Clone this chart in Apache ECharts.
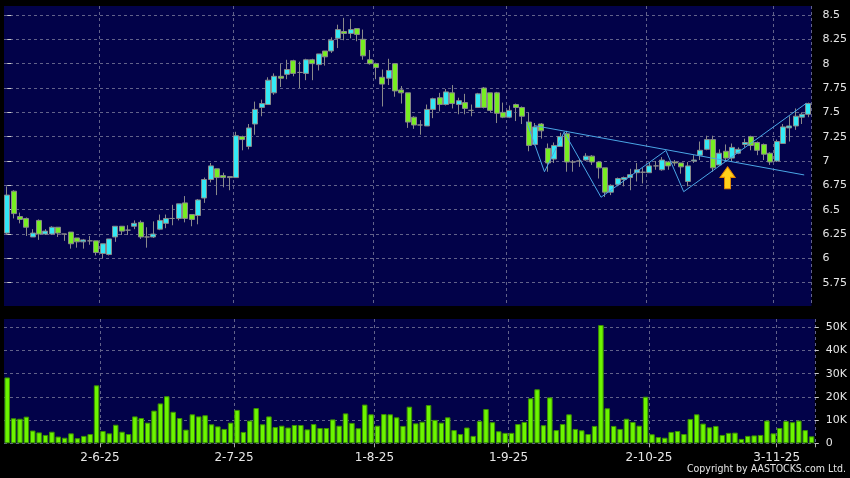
<!DOCTYPE html>
<html><head><meta charset="utf-8">
<script src="https://cdn.jsdelivr.net/npm/echarts@6/dist/echarts.min.js"></script>
<style>html,body{margin:0;padding:0;background:#000;}#c{width:850px;height:478px;}</style>
</head><body><div id="c"></div>
<script>
const dates = ['12-5-25','13-5-25','14-5-25','15-5-25','16-5-25','19-5-25','20-5-25','21-5-25','22-5-25','23-5-25','26-5-25','27-5-25','28-5-25','29-5-25','30-5-25',
'2-6-25','3-6-25','4-6-25','5-6-25','6-6-25','9-6-25','10-6-25','11-6-25','12-6-25','13-6-25','16-6-25','17-6-25','18-6-25','19-6-25','20-6-25','23-6-25','24-6-25','25-6-25','26-6-25','27-6-25','30-6-25',
'2-7-25','3-7-25','4-7-25','7-7-25','8-7-25','9-7-25','10-7-25','11-7-25','14-7-25','15-7-25','16-7-25','17-7-25','18-7-25','21-7-25','22-7-25','23-7-25','24-7-25','25-7-25','28-7-25','29-7-25','30-7-25','31-7-25',
'1-8-25','4-8-25','5-8-25','6-8-25','7-8-25','8-8-25','11-8-25','12-8-25','13-8-25','14-8-25','15-8-25','18-8-25','19-8-25','20-8-25','21-8-25','22-8-25','25-8-25','26-8-25','27-8-25','28-8-25','29-8-25',
'1-9-25','2-9-25','3-9-25','4-9-25','5-9-25','8-9-25','9-9-25','10-9-25','11-9-25','12-9-25','15-9-25','16-9-25','17-9-25','18-9-25','19-9-25','22-9-25','23-9-25','24-9-25','25-9-25','26-9-25','29-9-25','30-9-25',
'2-10-25','3-10-25','6-10-25','8-10-25','9-10-25','10-10-25','13-10-25','14-10-25','15-10-25','16-10-25','17-10-25','20-10-25','21-10-25','22-10-25','23-10-25','24-10-25','27-10-25','28-10-25','30-10-25','31-10-25',
'3-11-25','4-11-25','5-11-25','6-11-25','7-11-25','10-11-25'];

const opens = [6.26,6.69,6.43,6.41,6.22,6.39,6.25,6.25,6.32,6.25,6.27,6.21,6.17,6.18,6.18,6.05,6.04,6.22,6.33,6.29,
6.33,6.37,6.22,6.22,6.30,6.36,6.41,6.41,6.57,6.45,6.44,6.62,6.81,6.92,6.85,6.84,6.83,7.25,7.15,7.38,
7.55,7.58,7.70,7.87,7.89,8.03,7.91,7.90,8.04,7.99,8.13,8.13,8.26,8.33,8.31,8.36,8.25,8.04,8.00,7.86,
7.85,8.00,7.73,7.70,7.45,7.37,7.36,7.53,7.65,7.58,7.70,7.58,7.60,7.52,7.55,7.75,7.70,7.70,7.50,7.45,
7.58,7.55,7.40,7.17,7.38,7.13,7.02,7.15,7.28,6.99,7.00,7.01,7.05,6.99,6.93,6.68,6.76,6.81,6.83,6.88,
6.885,6.88,6.95,6.91,6.99,6.99,6.98,6.79,7.00,7.06,7.12,7.22,6.96,7.10,7.03,7.08,7.17,7.25,7.19,7.17,
7.08,7.00,7.18,7.34,7.36,7.45,7.48];
const closes = [6.65,6.46,6.40,6.32,6.26,6.25,6.28,6.32,6.26,6.25,6.15,6.17,6.19,6.18,6.06,6.15,6.20,6.33,6.28,6.29,
6.36,6.22,6.22,6.25,6.39,6.41,6.41,6.56,6.41,6.40,6.60,6.81,6.95,6.83,6.83,6.83,7.26,7.22,7.34,7.53,
7.59,7.83,7.87,7.85,7.94,7.90,7.91,8.04,8.00,8.10,8.07,8.24,8.35,8.31,8.35,8.30,8.08,8.00,7.96,7.79,
7.93,7.72,7.70,7.40,7.37,7.37,7.53,7.64,7.58,7.71,7.59,7.62,7.54,7.52,7.69,7.55,7.52,7.49,7.45,7.52,
7.55,7.46,7.16,7.35,7.31,6.98,7.16,7.25,6.99,6.99,7.00,7.05,6.99,6.93,6.68,6.75,6.82,6.83,6.86,6.91,
6.885,6.95,6.95,7.01,6.95,6.98,6.94,6.95,7.01,7.11,7.22,6.93,7.08,7.03,7.14,7.12,7.19,7.16,7.11,7.07,
6.99,7.20,7.35,7.36,7.46,7.48,7.59];
const lows = [6.24,6.41,6.36,6.23,6.22,6.19,6.24,6.24,6.22,6.18,6.10,6.11,6.10,6.14,6.03,6.00,6.03,6.17,6.24,6.24,
6.30,6.20,6.11,6.21,6.29,6.31,6.34,6.39,6.37,6.33,6.35,6.57,6.78,6.65,6.73,6.70,6.83,7.11,7.12,7.27,
7.46,7.58,7.68,7.76,7.84,7.87,7.75,7.83,7.83,7.93,7.98,8.11,8.16,8.24,8.26,8.23,8.04,7.99,7.84,7.56,
7.78,7.66,7.59,7.34,7.33,7.27,7.36,7.44,7.51,7.57,7.54,7.48,7.48,7.46,7.55,7.54,7.50,7.39,7.44,7.44,
7.41,7.38,7.10,7.16,7.23,6.89,6.98,7.15,6.89,6.89,6.94,7.00,6.96,6.82,6.63,6.65,6.74,6.74,6.70,6.79,
6.77,6.88,6.91,6.90,6.91,6.95,6.87,6.74,6.98,7.01,7.11,6.89,6.95,7.00,6.99,7.07,7.14,7.11,7.06,7.01,
6.96,6.99,7.18,7.20,7.32,7.38,7.45];
const highs = [6.74,6.70,6.47,6.42,6.30,6.40,6.30,6.33,6.32,6.25,6.27,6.21,6.20,6.23,6.18,6.15,6.20,6.33,6.33,6.34,
6.39,6.39,6.32,6.38,6.45,6.45,6.55,6.56,6.64,6.45,6.61,6.83,6.98,6.92,6.88,6.84,7.30,7.26,7.38,7.61,
7.63,7.86,7.90,8.00,8.04,8.04,8.02,8.05,8.05,8.10,8.13,8.27,8.40,8.47,8.46,8.36,8.35,8.14,8.01,7.94,
8.05,8.00,7.77,7.70,7.46,7.42,7.58,7.65,7.70,7.74,7.78,7.65,7.69,7.58,7.70,7.76,7.70,7.71,7.60,7.57,
7.59,7.56,7.50,7.39,7.39,7.18,7.19,7.29,7.31,7.01,7.02,7.08,7.06,7.00,6.93,6.76,6.83,6.84,6.92,6.98,
6.93,6.99,7.00,7.04,7.00,7.01,6.98,6.99,7.06,7.20,7.26,7.26,7.12,7.17,7.18,7.14,7.23,7.26,7.20,7.18,
7.09,7.22,7.38,7.46,7.54,7.50,7.60];
// volume in thousands of shares
const volumesK = [28.4,10.8,10.6,11.5,5.5,4.7,3.6,5.0,2.9,2.4,4.3,2.2,3.2,4.0,25.0,5.3,4.3,8.0,5.0,4.0,
11.6,10.9,8.9,14.1,17.2,20.3,13.6,10.9,5.9,12.5,11.6,12.1,8.2,7.3,6.2,8.9,14.4,4.9,9.8,15.2,
8.2,11.6,7.0,7.6,6.8,7.9,7.9,6.0,8.3,6.6,6.6,10.3,7.6,12.9,8.8,6.5,16.7,12.5,7.6,12.6,
12.5,11.2,7.5,15.8,8.6,9.3,16.5,10.1,8.9,11.2,5.7,4.0,6.8,3.2,9.6,14.8,9.1,5.2,4.5,4.5,
8.3,9.2,19.4,23.3,7.8,19.8,5.7,8.3,12.5,6.2,5.6,4.0,7.5,51.0,15.1,7.5,6.2,10.6,9.2,7.6,
20.1,3.9,2.7,2.4,4.9,5.3,4.0,10.5,12.5,8.5,6.9,7.5,3.6,4.5,4.6,1.9,3.2,3.4,3.6,9.8,
4.3,6.6,9.6,9.1,9.8,5.7,3.0];

const monthTickLabels = ['2-6-25','2-7-25','1-8-25','1-9-25','2-10-25','3-11-25'];
const priceTicks = [5.75,6,6.25,6.5,6.75,7,7.25,7.5,7.75,8,8.25,8.5];
const volumeTicks = [0,10,20,30,40,50];

// drawn annotations: [dataIndex position, price]
const zigzagLine = [[81.7,7.404],[84.5,6.890],[87.6,7.298],[93.4,6.628],[103.6,7.108],[106.4,6.685],[125.7,7.594]];
const trendLine = [[82.96,7.363],[125.35,6.857]];
const arrowMark = [[113.3,6.828]];

const candleData = dates.map((d,i)=>[opens[i],closes[i],lows[i],highs[i]]);
const isMonthTick = (idx,val)=>monthTickLabels.indexOf(dates[idx])>=0;

const gridLine = {show:true,lineStyle:{color:'#62628a',type:[3,3],width:1}};
const font = 'DejaVu Sans';

const chart = echarts.init(document.getElementById('c'),null,{renderer:'canvas'});
chart.setOption({
  animation:false,
  backgroundColor:'#000000',
  grid:[
    {left:4,right:35,top:6,height:300,show:true,backgroundColor:'#020249',borderWidth:0},
    {left:4,right:35,top:319,height:124.3,show:true,backgroundColor:'#020249',borderWidth:0}
  ],
  xAxis:[
    {type:'category',gridIndex:0,data:dates,boundaryGap:true,axisLine:{show:false},axisTick:{show:false},axisLabel:{show:false},
     splitLine:Object.assign({interval:isMonthTick},gridLine)},
    {type:'category',gridIndex:1,data:dates,boundaryGap:true,axisLine:{show:false},
     axisTick:{show:true,interval:isMonthTick,length:4,lineStyle:{color:'#aaaaaa'}},
     axisLabel:{show:true,interval:isMonthTick,color:'#e6e6e6',fontFamily:font,fontSize:12,margin:9,padding:[0,6,0,0]},
     splitLine:Object.assign({interval:isMonthTick},gridLine)},
    {type:'value',gridIndex:0,min:-0.5,max:126.5,show:false}
  ],
  yAxis:[
    {type:'value',gridIndex:0,position:'right',min:5.511,max:8.592,
     axisLine:{show:false},
     axisTick:{show:true,customValues:priceTicks,length:4,lineStyle:{color:'#cccccc'}},
     axisLabel:{show:true,customValues:priceTicks,color:'#e6e6e6',fontFamily:font,fontSize:11,margin:11},
     splitLine:gridLine},
    {type:'value',gridIndex:1,position:'right',min:0,max:53.6,
     axisLine:{show:false},
     axisTick:{show:true,customValues:volumeTicks,length:4,lineStyle:{color:'#cccccc'}},
     axisLabel:{show:true,customValues:volumeTicks,color:'#e6e6e6',fontFamily:font,fontSize:11,margin:11,
       formatter:v=>v===0?'0':v+'K'},
     splitLine:gridLine}
  ],
  series:[
    {type:'candlestick',xAxisIndex:0,yAxisIndex:0,data:candleData,barWidth:5.5,
     itemStyle:{color:'#33e9f5',color0:'#77ee22',borderColor:'#8a8a8a',borderColor0:'#8a8a8a',borderWidth:1}},
    {type:'line',xAxisIndex:2,yAxisIndex:0,data:zigzagLine,symbol:'none',lineStyle:{color:'#4aa6e6',width:1}},
    {type:'line',xAxisIndex:2,yAxisIndex:0,data:trendLine,symbol:'none',lineStyle:{color:'#4aa6e6',width:1}},
    {type:'scatter',xAxisIndex:2,yAxisIndex:0,data:arrowMark,
     symbol:'path://M50 0 L100 48 L70 48 L70 100 L30 100 L30 48 L0 48 Z',symbolSize:[15,22],
     itemStyle:{color:'#ffd21a',borderColor:'#e88a00',borderWidth:1,opacity:1}},
    {type:'bar',xAxisIndex:1,yAxisIndex:1,data:volumesK,barWidth:5.5,
     itemStyle:{color:'#6cf500',borderColor:'#3c9000',borderWidth:1}}
  ],
  graphic:[
    {type:'text',right:4,top:464,style:{text:'Copyright by AASTOCKS.com Ltd.',fill:'#e6e6e6',font:'10.5px "DejaVu Sans Condensed", "DejaVu Sans"'}}
  ]
});
</script></body></html>
